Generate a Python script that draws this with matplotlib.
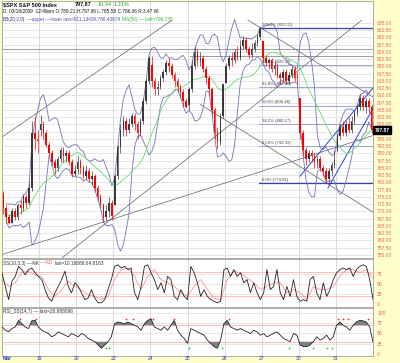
import matplotlib
matplotlib.use("Agg")
import matplotlib.pyplot as plt
import matplotlib.transforms as mtransforms
import numpy as np
import pandas as pd

W, H = 400, 363

# SPX, 18-31 Mar 2009, 30 minute bars (13 per session)
days = ["18", "19", "20", "23", "24", "25", "26", "27", "30", "31"]
day_open = [776.0, 797.9, 784.6, 772.3, 820.6, 806.8, 814.1, 828.7, 809.1, 790.9]

close = [
    [771, 768, 766, 770, 768, 772, 771, 775, 773, 778, 797, 795, 794.35],
    [800, 797, 793, 790, 787, 785, 788, 791, 789, 790, 787, 783, 784.04],
    [787, 785, 782, 784, 781, 782, 778, 775, 772, 768, 770, 773, 768.54],
    [782, 792, 798, 801, 798, 800, 803, 800, 797, 801, 808, 815, 822.92],
    [815, 812, 813, 816, 818, 821, 820, 817, 815, 813, 811, 808, 806.12],
    [812, 820, 825, 822, 823, 819, 816, 812, 805, 797, 794, 803, 813.88],
    [820, 823, 822, 825, 823, 827, 829, 826, 824, 826, 828, 830, 832.86],
    [823, 821, 822, 819, 820, 817, 816, 818, 815, 817, 819, 816, 815.94],
    [797, 791, 788, 790, 789, 787, 788, 785, 784, 781, 784, 786, 787.53],
    [796, 799, 797, 800, 798, 801, 804, 806, 809, 806, 808, 806, 797.87],
]
high = [
    [777, 772, 769, 771, 771, 773, 774, 776, 776, 780, 801, 803, 798],
    [803.2, 801, 798, 794, 791, 788, 789, 792, 792, 791, 791, 788, 786],
    [788.9, 788, 786, 786, 785, 784, 783, 779, 776, 773, 772, 775, 774],
    [783, 793, 800, 803, 802, 802, 804, 804, 801, 802, 809, 816, 823.4],
    [823.6, 816, 815, 817, 819, 822, 823, 821, 818, 816, 814, 812, 809],
    [813, 822, 826.8, 826, 825, 824, 820, 817, 813, 806, 799, 804, 814],
    [821, 824, 825, 826, 827, 829, 830.5, 830, 827, 828, 829, 831, 833.1],
    [828.7, 824, 823, 823, 822, 821, 818, 819, 819, 818, 820, 820, 818],
    [809.1, 798, 792, 791, 791, 790, 789, 789, 786, 785, 785, 787, 791],
    [797, 800, 801, 801, 802, 803, 805, 807, 810.5, 810, 809, 809, 807],
]
low = [
    [769, 766, 765.6, 766, 767, 767, 769, 770, 771, 772, 777, 791, 790],
    [796, 795, 792, 789, 786, 783, 784, 787, 787, 787, 786, 781.8, 782],
    [783, 783, 781, 781, 780, 779, 777, 774, 771, 766.2, 767, 768, 767],
    [772.3, 781, 790, 796, 796, 797, 799, 798, 795, 796, 800, 807, 814],
    [813, 810, 810, 812, 815, 817, 818, 816, 813, 811, 809, 806, 805.5],
    [805, 811, 819, 820, 820, 818, 814, 810, 803, 795, 791.4, 793, 802],
    [814.1, 819, 820, 821, 822, 822, 826, 825, 823, 823, 825, 827, 829],
    [821, 820, 819, 818, 817, 816, 814, 815, 814, 814, 816, 815, 813.4],
    [795, 789, 786, 787, 787, 785, 785, 784, 782, 779.8, 780, 782, 785],
    [790.9, 795, 796, 796, 797, 797, 800, 803, 805, 805, 804, 804, 797],
]

# slow stochastic %K / %D and RSI
stoch_k = [78, 44, 11, 57, 69, 94, 86, 73, 86, 90, 78, 69, 61, 36, 15, 7, 28, 44, 61, 82,
           44, 28, 53, 44, 28, 11, 15, 36, 15, 3, 3, 11, 36, 61, 94, 98, 90, 94, 86, 90,
           28, 11, 44, 94, 98, 78, 61, 36, 53, 28, 69, 61, 19, 11, 36, 19, 11, 94, 78, 53,
           19, 36, 19, 11, 7, 3, 7, 86, 90, 69, 86, 69, 78, 53, 61, 28, 53, 28, 11, 28,
           86, 36, 44, 86, 28, 11, 44, 19, 61, 19, 7, 11, 7, 61, 69, 28, 11, 53, 19, 36,
           61, 78, 86, 90, 86, 90, 69, 86, 94, 98, 94, 61, 11]
stoch_d = [61, 44, 53, 78, 82, 73, 69, 36, 19, 36, 57, 44, 36, 23, 19, 11, 19, 61, 86, 90,
           69, 36, 69, 86, 61, 53, 44, 28, 19, 44, 61, 36, 15, 11, 61, 82, 78, 65, 53, 36,
           44, 53, 53, 28, 36, 28, 11, 44, 36, 36, 44, 69, 86, 86, 78, 86, 65]
rsi = [66, 58, 54, 62, 66, 82, 74, 66, 62, 81, 82, 66, 58, 54, 50, 42, 46, 54, 50, 46,
       42, 50, 46, 42, 50, 46, 38, 34, 30, 22, 14, 22, 30, 42, 74, 78, 76, 74, 78, 74,
       70, 66, 58, 74, 82, 86, 66, 62, 58, 66, 58, 70, 82, 58, 46, 38, 26, 62, 58, 54,
       50, 46, 34, 26, 18, 14, 34, 74, 82, 66, 62, 58, 62, 58, 54, 50, 58, 54, 46, 50,
       42, 46, 50, 54, 46, 38, 34, 30, 50, 46, 22, 18, 18, 22, 30, 42, 34, 38, 46, 34,
       42, 70, 78, 70, 66, 58, 70, 78, 82, 81, 78, 66, 29]
rsi_sell_at = [6.4, 12.0, 43.5, 45.8, 52.8, 60.4, 79.5, 117.8, 119.6, 121.3, 128.3]
rsi_buy_at = [36.6, 37.4, 65.6, 77.2, 100.4, 109.1, 113.8, 115.5]

# fibonacci retracement, 26 Mar high to 30 Mar low
fib_high, fib_low = 833.11, 779.81
fib_levels = [1.0, 0.764, 0.618, 0.5, 0.382, 0.236, 0.0]
fib_from = 90

# hand drawn lines: (bar, price) pairs
trend_lines = [
    ((0, 795.6), (59.6, 835.9)),
    ((0, 755.1), (130, 796.1)),
    ((21, 753.9), (126.1, 835.9)),
    ((86.2, 835.9), (130, 809.4)),
    ((69.4, 806.9), (130, 769.7)),
]
channel_lines = [
    ((104.4, 782.1), (130, 812.5)),
    ((114.2, 778.0), (130, 805.4)),
]
flat_lines = [(0, 825.9), (65.9, 823.4)]

BB_N = 7      # ~20 ten-minute bars
MA_N = 17     # ~50 ten-minute bars

c = np.concatenate(close)
hi = np.concatenate(high)
lo = np.concatenate(low)
o = np.concatenate([[day_open[d]] + close[d][:-1] for d in range(len(days))])
n = len(c)
xb = np.arange(n) + 0.5
per_day = len(close[0])

s = pd.Series(c)
mid = s.rolling(BB_N, min_periods=2).mean()
sd = s.rolling(BB_N, min_periods=2).std(ddof=0)
upper = mid + 2 * sd
lower = mid - 2 * sd
ma = s.rolling(MA_N, min_periods=1).mean()


def rect(x0, y0, x1, y1):
    return [x0 / W, 1 - y1 / H, (x1 - x0) / W, (y1 - y0) / H]


def fx(x):
    return x / W


def fy(y):
    return 1 - y / H


plt.rcParams['font.family'] = ['Liberation Sans', 'DejaVu Sans']
fig = plt.figure(figsize=(W / 100, H / 100), dpi=100)
fig.patch.set_facecolor('#ffffcc')
renderer = fig.canvas.get_renderer()


def chain(y, parts, fs):
    # parts: (wanted x, text, colour, weight); never let one run into the last
    right = 0
    for xw, txt, colr, wt in parts:
        x0 = max(xw, right + 1.5)
        t = fig.text(fx(x0), fy(y), txt, fontsize=fs, color=colr, fontweight=wt,
                     va='center')
        right = t.get_window_extent(renderer).x1


lab_col = '#ee6060'
grid_col = '#dcdcdc'
day_lines = [per_day * d for d in range(1, len(days))]

ax = fig.add_axes(rect(2, 1, 373, 258))
ax2 = fig.add_axes(rect(2, 259, 373, 307))
ax3 = fig.add_axes(rect(2, 308, 373, 356))

for a in (ax, ax2, ax3):
    a.set_facecolor('white')
    a.set_xlim(0, n)
    a.set_xticks([])
    a.yaxis.tick_right()
    a.tick_params(axis='y', length=0, pad=3, labelsize=3.6, labelcolor=lab_col)
    for sp in a.spines.values():
        sp.set_color('#a0a0a0')
        sp.set_linewidth(0.6)
    for d in day_lines:
        a.axvline(d, color='#cccccc', lw=0.5, zorder=0)

# main price panel
ax.set_ylim(753.9, 842.5)
ticks = np.arange(755, 835.1, 2.5)
ax.set_yticks(ticks)
# the last-price box sits over the 797.50 label
ax.set_yticklabels(["" if abs(t - c[-1]) < 1.2 else "%.2f" % t for t in ticks])
for t in ticks:
    ax.axhline(t, color=grid_col, lw=0.5, zorder=0)

for (x0, p0) in flat_lines:
    ax.plot([x0, n], [p0, p0], color='#8c8c8c', lw=0.6, zorder=1)

rng = fib_high - fib_low
for lv in fib_levels:
    p = fib_low + lv * rng
    strong = lv in (0.0, 1.0)
    ax.plot([fib_from, n], [p, p], color='#3344aa' if strong else '#8a96c8',
            lw=0.9 if strong else 0.6, zorder=1)
    ax.text(fib_from + 1.2, p + 0.4, "%.1f%% (%.2f)" % (lv * 100, p), fontsize=3.1,
            color='#444444', va='bottom', zorder=5)

for (a0, a1) in trend_lines:
    ax.plot([a0[0], a1[0]], [a0[1], a1[1]], color='#606060', lw=0.5, zorder=2)
for (a0, a1) in channel_lines:
    ax.plot([a0[0], a1[0]], [a0[1], a1[1]], color='#2244dd', lw=0.7, zorder=2)

ax.plot(xb, upper, color='#7373b8', lw=0.6, zorder=3)
ax.plot(xb, lower, color='#7373b8', lw=0.6, zorder=3)
ax.plot(xb, ma, color='#66dd66', lw=0.6, zorder=3)

up = c >= o
col = np.where(up, '#3a3a3a', '#ff0000')
ax.vlines(xb, lo, hi, colors=col, lw=0.5, zorder=4)
ax.bar(xb, np.maximum(np.abs(c - o), 0.3), bottom=np.minimum(o, c), width=0.55,
       color=col, lw=0, zorder=4)

trans = mtransforms.blended_transform_factory(ax.transAxes, ax.transData)
ax.text(1.004, c[-1], "%.2f" % c[-1], transform=trans, fontsize=3.6, color='white',
        va='center', ha='left', fontweight='bold', zorder=10,
        bbox=dict(boxstyle='square,pad=0.3', fc='black', ec='black'))

# header
chain(5, [(3, "$SPX S&P 500 Index", '#111111', 'bold'),
          (75, "797.87", '#111111', 'bold'),
          (98, "10.34", '#22aa22', 'normal'),
          (112, "1.31%", '#22aa22', 'normal')], 4.0)
chain(12, [(3, "D: 03/18/2009  12:40pm O:789.21 H:797.06 L:785.58 C:786.06 R:3.47 W:",
            '#111111', 'normal')], 3.4)
chain(19, [(3, "BB(20,2.0)", '#333388', 'normal'),
           (20, "\u2014upper \u2014lower last=811.13436,786.43874", '#5050c0', 'normal'),
           (94, "MA(50) \u2014 last=796.735", '#33bb33', 'normal')], 3.4)

# stochastic panel
ax2.set_ylim(-7.5, 112.5)
ax2.set_yticks([0, 25, 50, 75])
for t in (25, 50, 75):
    ax2.axhline(t, color=grid_col, lw=0.5, zorder=0)
for t in (20, 80):
    ax2.axhline(t, color='#ffb0b0', lw=0.6, zorder=1)
xk = np.linspace(0, n, len(stoch_k))
xd = np.linspace(0, n, len(stoch_d))
ax2.plot(xd, stoch_d, color='#ff9090', lw=0.6, zorder=2)
ax2.plot(xk, stoch_k, color='#222222', lw=0.6, zorder=3)
chain(263, [(3, "SS(10,3,3) \u2014%K", '#333333', 'normal'),
            (35, "\u2014%D", '#ff6060', 'normal'),
            (46, "last=10.16888,64.8183", '#333333', 'normal')], 3.4)

# rsi panel
ax3.set_ylim(-4.9, 112.2)
ax3.set_yticks([0, 25, 50, 75, 100])
for t in (25, 50, 75, 100):
    ax3.axhline(t, color=grid_col, lw=0.5, zorder=0)
for t in (30, 70):
    ax3.axhline(t, color='#ffb0b0', lw=0.6, zorder=1)
xr = np.linspace(0, n, len(rsi))
rv = np.array(rsi, dtype=float)
ax3.fill_between(xr, rv, 70, where=rv > 70, interpolate=True, color='#808080', lw=0, zorder=2)
ax3.fill_between(xr, rv, 30, where=rv < 30, interpolate=True, color='#808080', lw=0, zorder=2)
ax3.plot(xr, rv, color='#222222', lw=0.6, zorder=3)
ax3.plot(rsi_sell_at, [86] * len(rsi_sell_at), ls='none', marker='+', ms=2, mew=0.5,
         color='#ff2020', zorder=4)
ax3.plot(rsi_buy_at, [15] * len(rsi_buy_at), ls='none', marker='+', ms=2, mew=0.5,
         color='#20cc20', zorder=4)
chain(311, [(3, "RSI_SS(14,7) \u2014 last=28.888896", '#333333', 'normal')], 3.4)

# date labels
fig.text(fx(3), fy(359), "Mar", fontsize=3.6, color='#2233cc', fontweight='bold', va='center')
for d in range(1, len(days)):
    xp = 2 + d * per_day * (371 / n)
    fig.text(fx(xp), fy(359), days[d], fontsize=3.6, color='#2233cc', va='center', ha='center')

fig.savefig("out.png", dpi=100, facecolor=fig.get_facecolor())
